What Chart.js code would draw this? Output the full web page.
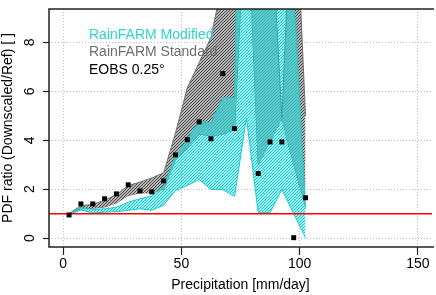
<!DOCTYPE html>
<html lang="en">
<head>
<meta charset="utf-8">
<script src="https://cdn.jsdelivr.net/npm/chart.js@4.4.0/dist/chart.umd.min.js"></script>
<style>
  html, body { margin: 0; padding: 0; background: #fff; }
  #wrap { width: 436px; height: 295px; }
</style>
</head>
<body>
<div id="wrap"><canvas id="myChart" width="436" height="295"></canvas></div>
<script>
// bin centres [mm/day]
var precip = [2.5, 7.5, 12.5, 17.5, 22.5, 27.5, 32.5, 37.5, 42.5, 47.5, 52.5,
              57.5, 62.5, 67.5, 72.5, 77.5, 82.5, 87.5, 92.5, 97.5, 102.5];
// EOBS 0.25 ratio (77.5 is off the top of the plot)
var eobs = [0.95, 1.40, 1.40, 1.61, 1.81, 2.18, 1.93, 1.89, 2.34, 3.40, 4.02,
            4.75, 4.06, 6.72, 4.48, null, 2.64, 3.93, 3.93, 0.02, 1.65];
// RainFARM Standard envelope
var standardLow  = [0.97, 1.20, 1.22, 1.27, 1.44, 1.74, 1.85, 1.85, 2.00, 3.20, 3.70,
                    4.25, 4.17, 4.24, 4.44, 14.3, 3.00, 3.96, 4.90, 3.00, 1.30];
var standardHigh = [1.00, 1.33, 1.38, 1.55, 1.78, 2.15, 2.29, 2.46, 2.67, 4.30, 6.14,
                    7.17, 8.20, 10.5, 20.0, 30.0, 25.0, 13.8, 4.90, 16.0, 5.00];
// RainFARM Modified envelope
var modifiedLow  = [0.97, 1.15, 1.03, 1.06, 1.08, 1.14, 1.20, 1.14, 1.35, 1.95, 2.15,
                    2.40, 1.99, 1.98, 1.71, 4.91, 1.04, 1.04, 1.99, 1.00, 0.02];
var modifiedHigh = [1.00, 1.25, 1.17, 1.20, 1.26, 1.47, 1.61, 1.72, 2.15, 3.35, 4.05,
                    4.78, 4.71, 5.73, 5.73, 32.0, 30.0, 30.0, 30.0, 10.0, 1.20];

var xTicks = [0, 50, 100, 150];
var yTicks = [0, 2, 4, 6, 8];
var xMin = -6, xMax = 156, yMin = -0.36, yMax = 9.36;
var refLevel = 1;
var legendNames = ["RainFARM Modified", "RainFARM Standard", "EOBS 0.25\u00b0"];
var legendColors = ["#2fd3d3", "#6e6e6e", "#000000"];

var FONT = "'Liberation Sans', Arial, sans-serif";
Chart.defaults.font.family = FONT;
Chart.defaults.font.size = 14;
Chart.defaults.color = "#000";

var canvas = document.getElementById("myChart");
var ctx = canvas.getContext("2d");

// pixel diagonal hatching, like R's density= shading
function hatch(bg, fg) {
    var n = 3;
    var c = document.createElement("canvas");
    c.width = n; c.height = n;
    var g = c.getContext("2d");
    g.fillStyle = bg;
    g.fillRect(0, 0, n, n);
    g.fillStyle = fg;
    for (var i = 0; i < n; i++) {
        g.clearRect(i, n - 1 - i, 1, 1);
        g.fillRect(i, n - 1 - i, 1, 1);
    }
    return ctx.createPattern(c, "repeat");
}
var grayHatch = hatch("#b4b4b4", "#4a4a4a");
var cyanHatch = hatch("rgba(0,206,209,0.32)", "rgb(0,208,210)");

function pts(ys) {
    return precip.map(function (x, i) { return {x: x, y: ys[i]}; });
}

var frame = {
    id: "frame",
    afterDraw: function (chart) {
        var c = chart.ctx, a = chart.chartArea, y = chart.scales.y;
        c.save();
        c.strokeStyle = "#222";
        c.lineWidth = 1.5;
        c.beginPath();
        c.moveTo(a.right + 2, a.top);
        c.lineTo(a.left, a.top);
        c.lineTo(a.left, a.bottom);
        c.lineTo(a.right + 2, a.bottom);
        c.stroke();

        // rotated y tick labels (R style)
        c.font = "14px " + FONT;
        c.fillStyle = "#000";
        c.textAlign = "center";
        c.textBaseline = "alphabetic";
        yTicks.forEach(function (v) {
            c.save();
            c.translate(a.left - 14.7, y.getPixelForValue(v));
            c.rotate(-Math.PI / 2);
            c.fillText(String(v), 0, 0);
            c.restore();
        });

        // legend text
        c.textAlign = "left";
        c.textBaseline = "middle";
        legendNames.forEach(function (t, i) {
            c.fillStyle = legendColors[i];
            c.fillText(t, a.left + 40, a.top + 26 + i * 17.5);
        });
        c.restore();
    }
};

var myChart = new Chart(ctx, {
    type: "line",
    data: {
        datasets: [{
            label: legendNames[2],
            data: pts(eobs),
            showLine: false,
            pointStyle: "rect",
            pointRadius: 3.5,
            pointBorderWidth: 0,
            pointBackgroundColor: "#000",
            order: 0
        }, {
            label: "ref",
            data: [{x: xMin, y: refLevel}, {x: xMax, y: refLevel}],
            borderColor: "#ff0000",
            borderWidth: 1.5,
            pointRadius: 0,
            order: 1
        }, {
            label: legendNames[0],
            data: pts(modifiedHigh),
            borderColor: "#1ccaca",
            borderWidth: 1,
            pointRadius: 0,
            fill: "+1",
            backgroundColor: cyanHatch,
            order: 2
        }, {
            label: "modLow",
            data: pts(modifiedLow),
            borderColor: "#1ccaca",
            borderWidth: 1,
            pointRadius: 0,
            fill: false,
            order: 3
        }, {
            label: legendNames[1],
            data: pts(standardHigh),
            borderColor: "#707070",
            borderWidth: 1,
            pointRadius: 0,
            fill: "+1",
            backgroundColor: grayHatch,
            order: 4
        }, {
            label: "stdLow",
            data: pts(standardLow),
            borderColor: "#707070",
            borderWidth: 1,
            pointRadius: 0,
            fill: false,
            order: 5
        }]
    },
    options: {
        responsive: false,
        animation: false,
        layout: {padding: {top: 9, right: 0, left: 0, bottom: 0}},
        plugins: {legend: {display: false}, tooltip: {enabled: false}},
        scales: {
            x: {
                type: "linear",
                min: xMin,
                max: xMax,
                afterBuildTicks: function (s) { s.ticks = xTicks.map(function (v) { return {value: v}; }); },
                afterFit: function (s) { s.height = 48; },
                ticks: {maxRotation: 0, padding: 1, color: "#000"},
                grid: {color: "#bdbdbd", lineWidth: 1, tickLength: 8, tickColor: "#222", tickWidth: 1.2, tickBorderDash: []},
                border: {display: false, dash: [1, 2]},
                title: {display: true, text: "Precipitation [mm/day]", color: "#000", padding: {top: 0, bottom: 1}}
            },
            y: {
                type: "linear",
                min: yMin,
                max: yMax,
                afterBuildTicks: function (s) { s.ticks = yTicks.map(function (v) { return {value: v}; }); },
                afterFit: function (s) { s.width = 49; },
                ticks: {display: false},
                grid: {color: "#bdbdbd", lineWidth: 1, tickLength: 6, tickColor: "#222", tickWidth: 1.2, tickBorderDash: []},
                border: {display: false, dash: [1, 2]},
                title: {display: true, text: "PDF ratio (Downscaled/Ref) [ ]", color: "#000", padding: 0}
            }
        }
    },
    plugins: [frame]
});
</script>
</body>
</html>
